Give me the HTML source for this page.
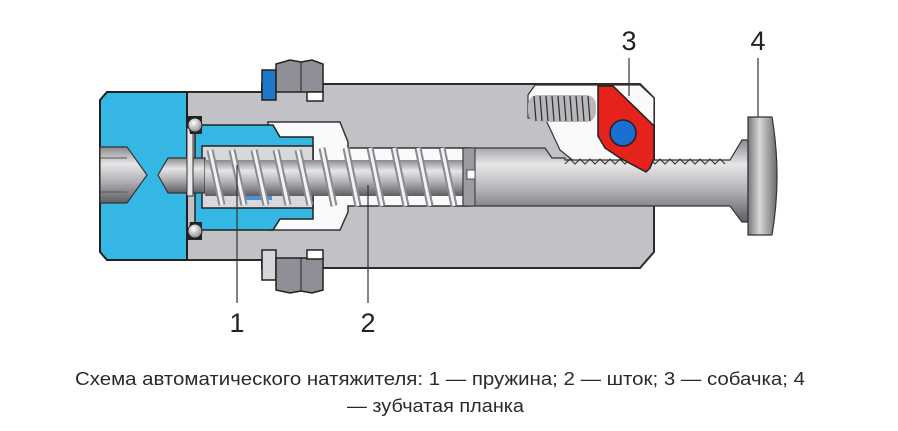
<!DOCTYPE html>
<html><head><meta charset="utf-8"><style>
html,body{margin:0;padding:0;background:#fff;width:898px;height:431px;overflow:hidden}
</style></head><body>
<svg width="898" height="431" viewBox="0 0 898 431" xmlns="http://www.w3.org/2000/svg">
<defs>
<linearGradient id="rod" x1="0" y1="0" x2="0" y2="1">
<stop offset="0" stop-color="#8a8a8e"/><stop offset="0.3" stop-color="#e6e6e8"/><stop offset="0.6" stop-color="#b4b4b8"/><stop offset="1" stop-color="#5e5e62"/>
</linearGradient>
<linearGradient id="head" x1="0" y1="0" x2="1" y2="0">
<stop offset="0" stop-color="#77777b"/><stop offset="0.4" stop-color="#d8d8da"/><stop offset="1" stop-color="#6a6a6e"/>
</linearGradient>
<radialGradient id="ball" cx="0.4" cy="0.35" r="0.7"><stop offset="0" stop-color="#fff"/><stop offset="1" stop-color="#888"/></radialGradient>
</defs>
<path d="M187,92 L262,92 L262,84 L640,84 L654,98 L654,252 L640,268 L262,268 L262,260 L187,260 Z" fill="#c2c1c6" stroke="#2b2b2b" stroke-width="2"/>
<rect x="262" y="70" width="14" height="30" fill="#1e78c8" stroke="#222" stroke-width="1.5"/>
<path d="M276,64 L290,60 L301,62 L312,60 L323,64 L323,92 L276,92 Z" fill="#8f8f98" stroke="#222" stroke-width="1.5"/>
<line x1="301" y1="62" x2="301" y2="92" stroke="#222"/>
<rect x="307" y="92" width="16" height="9" fill="#fff" stroke="#222" stroke-width="1.5"/>
<rect x="262" y="250" width="14" height="30" fill="#d6d6da" stroke="#222" stroke-width="1.5"/>
<path d="M276,258 L323,258 L323,290 L312,293 L301,291 L290,293 L276,290 Z" fill="#8f8f98" stroke="#222" stroke-width="1.5"/>
<line x1="301" y1="258" x2="301" y2="291" stroke="#222"/>
<rect x="307" y="250" width="16" height="9" fill="#fff" stroke="#222" stroke-width="1.5"/>
<path d="M268,122 L340,122 L348,142 L348,148 L470,148 L470,206 L348,206 L348,212 L340,230 L268,230 Z" fill="#fafafa" stroke="#333" stroke-width="1.5"/>
<path d="M535,85 L640,85 L654,98 L654,166 L580,166 L560,150 L545,118 L528,118 L528,95 Z" fill="#fafafa" stroke="#333" stroke-width="1.2"/>
<path d="M107,92 L187,92 L187,260 L107,260 L100,252 L100,100 Z" fill="#35b7e4" stroke="#1e1e1e" stroke-width="2"/>
<path d="M195,125 L273,125 L280,137 L313,137 L313,219 L280,219 L273,230 L195,230 Z" fill="#35b7e4" stroke="#222" stroke-width="1.5"/>
<rect x="202" y="146" width="111" height="62" fill="#d8d8dc" stroke="#222" stroke-width="1.5"/>
<path d="M100,147 L127,147 L147,175 L127,203 L100,203 Z" fill="url(#rod)" stroke="#333" stroke-width="1.2"/>
<line x1="100" y1="158" x2="127" y2="158" stroke="#555"/><line x1="100" y1="192" x2="127" y2="192" stroke="#555"/>
<path d="M158,175 L168,158 L205,158 L205,193 L168,193 Z" fill="url(#rod)" stroke="#333" stroke-width="1.2"/>
<rect x="187" y="128" width="6" height="68" fill="#e8e8ea" stroke="#333" stroke-width="1"/>
<path d="M187,116 L202,116 L202,134 L190,134 Z" fill="#222"/>
<path d="M187,240 L202,240 L202,222 L190,222 Z" fill="#222"/>
<circle cx="195" cy="125" r="7" fill="url(#ball)" stroke="#222"/>
<circle cx="195" cy="231" r="7" fill="url(#ball)" stroke="#222"/>
<path d="M245,160 L272,160 L272,200 L245,200 Z" fill="#2a7fd0" opacity="0.8"/>
<rect x="205" y="160" width="262" height="36" fill="url(#rod)"/>
<g stroke="#8a8a90" stroke-width="7" fill="none">
<path d="M210,150 L222,205 M232,150 L244,205 M254,150 L266,205 M276,150 L288,205 M298,150 L310,205 M322,148 L334,206 M346,148 L358,206 M370,148 L382,206 M394,148 L406,206 M418,148 L430,206 M442,148 L454,206"/>
</g>
<g stroke="#f2f2f4" stroke-width="3" fill="none">
<path d="M210,150 L222,205 M232,150 L244,205 M254,150 L266,205 M276,150 L288,205 M298,150 L310,205 M322,148 L334,206 M346,148 L358,206 M370,148 L382,206 M394,148 L406,206 M418,148 L430,206 M442,148 L454,206"/>
</g>
<path d="M463,148 L545,148 L552,158 L565,158 L565,160 L730,160 L742,140 L748,140 L748,222 L742,222 L730,206 L463,206 Z" fill="url(#rod)" stroke="#333" stroke-width="1.2"/>
<rect x="463" y="148" width="12" height="58" fill="#9a9aa0" stroke="#333"/>
<rect x="467" y="170" width="8" height="9" fill="#fff" stroke="#333" stroke-width="0.8"/>
<path d="M565,164 l5,-5 l5,5 l5,-5 l5,5 l5,-5 l5,5 l5,-5 l5,5 l5,-5 l5,5 l5,-5 l5,5 l5,-5 l5,5 l5,-5 l5,5 l5,-5 l5,5 l5,-5 l5,5 l5,-5 l5,5 l5,-5 l5,5 l5,-5 l5,5 l5,-5 l5,5 l5,-5 l5,5 l5,-5 l5,5" fill="none" stroke="#333" stroke-width="1"/>
<path d="M748,117 L772,117 Q782,176 772,235 L748,235 Z" fill="url(#head)" stroke="#333" stroke-width="1.2"/>
<rect x="528" y="95" width="68" height="27" rx="10" fill="#b8b8bc"/>
<g stroke="#333" stroke-width="1.3"><path d="M534,96 L536,121 M540,96 L542,121 M546,96 L548,121 M552,96 L554,121 M558,96 L560,121 M564,96 L566,121 M570,96 L572,121 M576,96 L578,121 M582,96 L584,121 M588,96 L590,121"/></g>
<path d="M598,86 L613,86 L654,126 L654,158 L650,168 L646,172 L620,158 L605,148 L598,136 Z" fill="#e5221c" stroke="#222" stroke-width="1.5"/>
<circle cx="623" cy="133" r="13" fill="#1a6fd0" stroke="#222" stroke-width="1.5"/>
<g stroke="#333" stroke-width="1.2">
<line x1="237" y1="165" x2="237" y2="303"/>
<line x1="368" y1="185" x2="368" y2="303"/>
<line x1="629" y1="58" x2="629" y2="96"/>
<line x1="758" y1="58" x2="758" y2="117"/>
</g>
<g font-family="Liberation Sans, sans-serif" font-size="27" fill="#222" text-anchor="middle">
<text x="237" y="332">1</text>
<text x="368" y="332">2</text>
<text x="629" y="50">3</text>
<text x="758" y="50">4</text>
</g>
<g font-family="Liberation Sans, DejaVu Sans, sans-serif" font-size="18" fill="#2a2a2a">
<text x="75" y="385" textLength="730" lengthAdjust="spacingAndGlyphs">Схема автоматического натяжителя: 1 — пружина; 2 — шток; 3 — собачка; 4</text>
<text x="347" y="412" textLength="177" lengthAdjust="spacingAndGlyphs">— зубчатая планка</text>
</g>
</svg>
</body></html>
